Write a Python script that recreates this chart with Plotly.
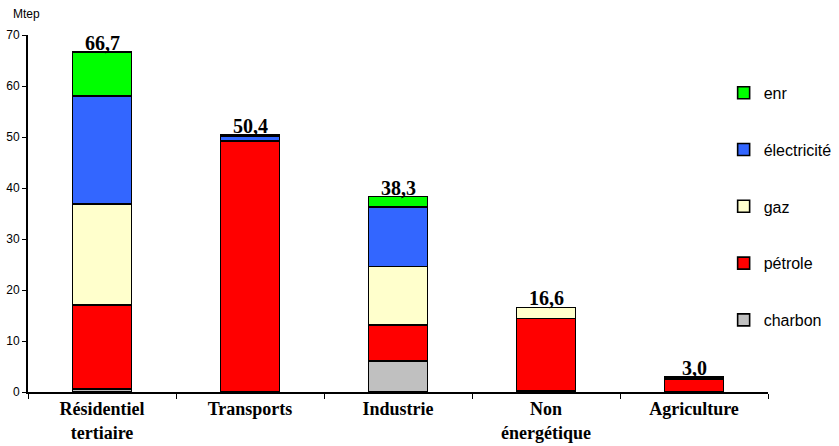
import plotly.graph_objects as go

categories = ["Résidentiel<br>tertiaire", "Transports", "Industrie", "Non<br>énergétique", "Agriculture"]
charbon = [0.6, 0.0, 6.1, 0.3, 0.0]
petrole = [16.5, 49.2, 7.0, 14.1, 2.5]
gaz = [19.8, 0.0, 11.5, 2.2, 0.2]
electricite = [21.1, 0.9, 11.7, 0.0, 0.3]
enr = [8.7, 0.3, 2.0, 0.0, 0.0]

series = [
    ("charbon", charbon, "#C0C0C0"),
    ("pétrole", petrole, "#FF0000"),
    ("gaz", gaz, "#FFFFCC"),
    ("électricité", electricite, "#3366FF"),
    ("enr", enr, "#00FF00"),
]

fig = go.Figure()
n = len(series)
for i, (name, vals, col) in enumerate(series):
    fig.add_trace(go.Bar(
        x=categories, y=vals, name=name, legendgroup=name, legendrank=n - i,
        marker=dict(color=col, line=dict(color="black", width=1.6)),
        width=0.4,
    ))

totals = [sum(v) for v in zip(charbon, petrole, gaz, electricite, enr)]
for c, t in zip(categories, totals):
    fig.add_annotation(x=c, y=t, text=f"<b>{t:.1f}</b>".replace(".", ","),
                       showarrow=False, yanchor="bottom", yshift=-4,
                       font=dict(family="Liberation Serif", size=20, color="black"))

fig.add_annotation(xref="paper", yref="paper", x=-0.023, y=1.035, xanchor="left", yanchor="bottom",
                   text="Mtep", showarrow=False,
                   font=dict(family="Liberation Sans", size=12, color="black"))

fig.update_layout(
    width=839, height=446,
    margin=dict(l=28, r=71, t=35, b=54, autoexpand=False),
    plot_bgcolor="white", paper_bgcolor="white",
    barmode="stack", bargap=0.6,
    showlegend=True,
    legend=dict(xref="container", yref="container", x=0.8625, xanchor="left", y=0.83, yanchor="top",
                traceorder="grouped", tracegroupgap=33, maxheight=1,
                itemwidth=30,
                font=dict(family="Liberation Sans", size=16, color="black"),
                bgcolor="rgba(0,0,0,0)"),
    xaxis=dict(showline=True, linecolor="black", linewidth=1.5, automargin=False,
               ticks="outside", tickson="boundaries", ticklen=5, tickcolor="black",
               ticklabelstandoff=0,
               tickfont=dict(family="Liberation Serif", size=18, color="black"),
               showgrid=False),
    yaxis=dict(range=[0, 70], dtick=10, showline=True, linecolor="black", linewidth=2,
               automargin=False,
               ticks="outside", ticklen=4, tickcolor="black", showgrid=False, zeroline=False,
               tickfont=dict(family="Liberation Sans", size=12, color="black")),
)
fig.update_xaxes(tickprefix="<b>", ticksuffix="</b>")

fig.write_html("out.html")
